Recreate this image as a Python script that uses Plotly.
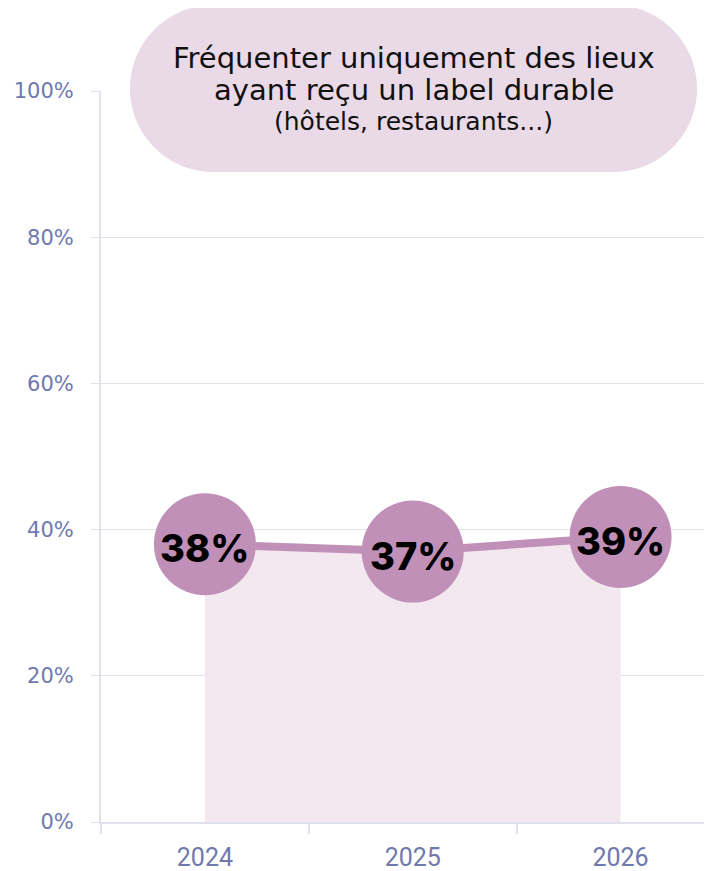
import plotly.graph_objects as go

years = ["2024", "2025", "2026"]
values = [38, 37, 39]
labels = ["38%", "37%", "39%"]
y_ticks = [0, 20, 40, 60, 80, 100]
y_tick_labels = ["0%", "20%", "40%", "60%", "80%", "100%"]
title_lines = ["Fréquenter uniquement des lieux", "ayant reçu un label durable", "(hôtels, restaurants...)"]

# page offset of the plot div (body margin)
OFF = 8
W, H = 712 - OFF, 871 - OFF
# target page pixels: plot left 101, top 91, bottom 822, right 712
L, T = 101 - OFF, 91 - OFF
B = H - (822 - OFF)
R = 0
pw, ph = W - L - R, H - T - B

def px(x):
    return (x - OFF - L) / pw

def py(y):
    return (H - B - (y - OFF)) / ph

MAIN = "#c090b8"
GRID = "#e1e1ec"
TICK = "#6f79b0"

fig = go.Figure()
fig.add_trace(go.Scatter(
    x=years, y=values, mode="lines+markers",
    line=dict(color=MAIN, width=8),
    marker=dict(size=102, color=MAIN),
    fill="tozeroy", fillcolor="#f3e7f0",
    cliponaxis=False, hoverinfo="skip", showlegend=False,
))

# data labels (category index positions on the category axis)
for i, (yv, lab) in enumerate(zip(values, labels)):
    fig.add_annotation(
        x=i, y=yv, xref="x", yref="y", text=lab, showarrow=False, yshift=-4,
        font=dict(family="Inter", size=38, color="#000000", weight=800),
    )

# pill-shaped title background
x0, x1, y0, y1 = 130, 697, 5, 172
r = (y1 - y0) / 2
k = 0.5523 * r
def P(x, y):
    return f"{px(x):.5f},{py(y):.5f}"
path = (
    f"M {P(x0 + r, y0)} L {P(x1 - r, y0)} "
    f"C {P(x1 - r + k, y0)} {P(x1, y0 + r - k)} {P(x1, y0 + r)} "
    f"C {P(x1, y0 + r + k)} {P(x1 - r + k, y1)} {P(x1 - r, y1)} "
    f"L {P(x0 + r, y1)} "
    f"C {P(x0 + r - k, y1)} {P(x0, y0 + r + k)} {P(x0, y0 + r)} "
    f"C {P(x0, y0 + r - k)} {P(x0 + r - k, y0)} {P(x0 + r, y0)} Z"
)
fig.add_shape(type="path", path=path, xref="paper", yref="paper",
              fillcolor="#ead9e7", line=dict(width=0), layer="above")

for line_text, yc, fs in zip(title_lines, [58, 90, 121], [29, 29, 25]):
    fig.add_annotation(
        x=px((x0 + x1) / 2), y=py(yc), xref="paper", yref="paper",
        text=line_text, showarrow=False, align="center", yanchor="middle",
        font=dict(family="DejaVu Sans", size=fs, color="#111111"),
    )

fig.update_layout(
    width=W, height=H,
    margin=dict(l=L, r=R, t=T, b=B),
    paper_bgcolor="white", plot_bgcolor="white",
    xaxis=dict(
        type="category", range=[-0.5, 2.44],
        tickson="boundaries", ticks="outside", ticklen=10, tickcolor=GRID, tickwidth=2,
        showgrid=False, showline=True, linecolor=GRID, linewidth=2,
        tickfont=dict(family="Roboto", size=25, color=TICK),
        ticklabelstandoff=12,
        zeroline=False,
    ),
    yaxis=dict(
        range=[0, 100], tickmode="array", tickvals=y_ticks, ticktext=y_tick_labels,
        ticks="outside", ticklen=8, tickcolor=GRID, tickwidth=1,
        showgrid=True, gridcolor=GRID, gridwidth=1,
        showline=True, linecolor=GRID, linewidth=2,
        tickfont=dict(family="DejaVu Sans", size=21, color=TICK),
        ticklabelstandoff=13,
        zeroline=False,
    ),
)

fig.write_html("out.html")
